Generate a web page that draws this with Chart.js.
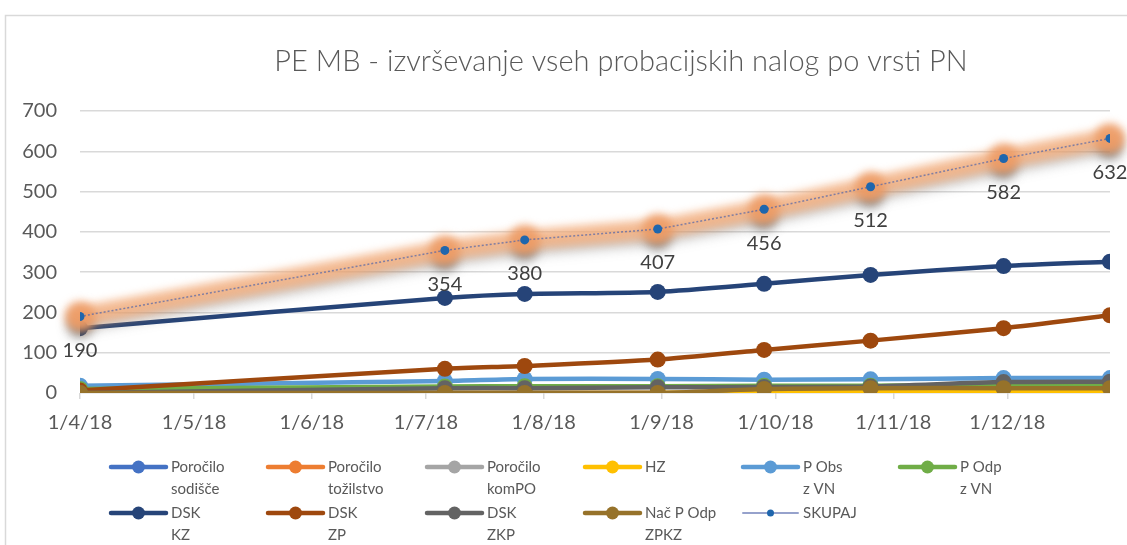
<!DOCTYPE html>
<html>
<head>
<meta charset="utf-8">
<script src="https://cdn.jsdelivr.net/npm/chart.js@4.4.1/dist/chart.umd.min.js"></script>
<style>
  html, body { margin: 0; padding: 0; background: #fff; }
</style>
</head>
<body>
<canvas id="grafico" width="1127" height="545"></canvas>
<script>
// Datos
const fechas = ['2018-04-01', '2018-07-06', '2018-07-27', '2018-08-31', '2018-09-28', '2018-10-26', '2018-11-30', '2018-12-28'];
const marcasFechas = ['2018-04-01', '2018-05-01', '2018-06-01', '2018-07-01', '2018-08-01', '2018-09-01', '2018-10-01', '2018-11-01', '2018-12-01'];
const marcasEtiquetas = ['1/4/18', '1/5/18', '1/6/18', '1/7/18', '1/8/18', '1/9/18', '1/10/18', '1/11/18', '1/12/18'];

const porociloSodisce = [0, 0, 0, 0, 0, 0, 0, 0];
const porociloTozilstvo = [0, 0, 0, 0, 0, 0, 0, 0];
const porociloKomPO = [0, 0, 0, 0, 0, 0, 0, 0];
const hz = [0, 0, 0, 0, 2, 2, 2, 2];
const pObsZVN = [18, 30, 35, 35, 33, 34, 37, 37];
const pOdpZVN = [10, 16, 17, 17, 18, 18, 20, 20];
const dskKZ = [161, 236, 246, 251, 271, 293, 315, 326];
const dskZP = [6, 60, 67, 83, 107, 130, 161, 193];
const dskZKP = [0, 12, 12, 14, 15, 16, 27, 28];
const nacPOdpZPKZ = [0, 0, 0, 0, 10, 12, 12, 12];
const skupaj = [190, 354, 380, 407, 456, 512, 582, 632];

const nombres = [
    ['Poročilo', 'sodišče'], ['Poročilo', 'tožilstvo'], ['Poročilo', 'komPO'], ['HZ'],
    ['P Obs', 'z VN'], ['P Odp', 'z VN'], ['DSK', 'KZ'], ['DSK', 'ZP'], ['DSK', 'ZKP'],
    ['Nač P Odp', 'ZPKZ'], ['SKUPAJ']
];
const series = [porociloSodisce, porociloTozilstvo, porociloKomPO, hz, pObsZVN, pOdpZVN, dskKZ, dskZP, dskZKP, nacPOdpZPKZ, skupaj];
const colores = ['#4472C4', '#ED7D31', '#A5A5A5', '#FFC000', '#5B9BD5', '#70AD47', '#264478', '#9E480E', '#636363', '#96722a', '#4472C4'];

const dia = s => Date.parse(s + 'T00:00:00Z') / 86400000;
const idxSkupaj = series.length - 1;

const datasets = series.map((valores, i) => {
    const esTotal = i === idxSkupaj;
    return {
        label: nombres[i].join(' '),
        data: valores.map((v, k) => ({ x: dia(fechas[k]), y: v })),
        borderColor: esTotal ? 'rgba(80,100,170,0.7)' : colores[i],
        backgroundColor: esTotal ? '#1f66ad' : colores[i],
        pointBackgroundColor: esTotal ? '#1f66ad' : colores[i],
        pointBorderColor: esTotal ? '#1f66ad' : colores[i],
        borderWidth: esTotal ? 1.5 : 4.5,
        borderDash: esTotal ? [2, 2] : [],
        pointRadius: esTotal ? 4.5 : 8,
        pointBorderWidth: 0,
        tension: esTotal ? 0 : 0.25,
        order: series.length - i
    };
});

// Dibujos extra: marco, título, resplandor del total, etiquetas y leyenda
const decoracion = {
    id: 'decoracion',
    beforeDraw(chart) {
        const ctx = chart.ctx;
        ctx.save();
        ctx.fillStyle = '#fff';
        ctx.fillRect(0, 0, chart.width, chart.height);
        ctx.strokeStyle = '#d9d9d9';
        ctx.lineWidth = 1.5;
        ctx.strokeRect(5.5, 15.5, 1300, 700);
        ctx.fillStyle = '#595959';
        ctx.font = '300 29px Lato';
        ctx.textAlign = 'center';
        ctx.textBaseline = 'middle';
        ctx.fillText('PE MB - izvrševanje vseh probacijskih nalog po vrsti PN', 621, 62);
        ctx.restore();
    },
    beforeDatasetDraw(chart, args) {
        if (args.index !== idxSkupaj) return;
        const ctx = chart.ctx;
        const pts = chart.getDatasetMeta(args.index).data;
        const trazo = dy => {
            ctx.beginPath();
            pts.forEach((p, k) => k ? ctx.lineTo(p.x, p.y + dy) : ctx.moveTo(p.x, p.y + dy));
        };
        ctx.save();
        ctx.lineCap = 'round';
        ctx.lineJoin = 'round';
        // sombra gris
        ctx.filter = 'blur(6px)';
        ctx.strokeStyle = 'rgba(80,80,80,0.3)';
        ctx.lineWidth = 16;
        trazo(8);
        ctx.stroke();
        ctx.fillStyle = 'rgba(60,60,60,0.55)';
        pts.forEach(p => { ctx.beginPath(); ctx.arc(p.x, p.y + 9, 12, 0, Math.PI * 2); ctx.fill(); });
        // resplandor naranja
        ctx.filter = 'blur(4px)';
        ctx.strokeStyle = 'rgba(244,168,115,0.75)';
        ctx.lineWidth = 20;
        trazo(0);
        ctx.stroke();
        ctx.fillStyle = 'rgba(238,155,100,0.85)';
        pts.forEach(p => { ctx.beginPath(); ctx.arc(p.x, p.y, 15, 0, Math.PI * 2); ctx.fill(); });
        ctx.restore();
    },
    afterDatasetsDraw(chart) {
        const ctx = chart.ctx;
        ctx.save();
        // etiquetas del total
        const pts = chart.getDatasetMeta(idxSkupaj).data;
        ctx.font = '20px Lato';
        ctx.fillStyle = '#404040';
        ctx.textAlign = 'center';
        ctx.textBaseline = 'middle';
        pts.forEach((p, k) => ctx.fillText(String(skupaj[k]), p.x, p.y + 34));

        // leyenda
        const columnas = [111, 268, 427, 585, 743, 900];
        const filas = [467, 513];
        ctx.font = '15px Lato';
        ctx.textAlign = 'left';
        nombres.forEach((lineas, i) => {
            const x = columnas[i % 6];
            const y = filas[Math.floor(i / 6)];
            const esTotal = i === idxSkupaj;
            ctx.strokeStyle = esTotal ? 'rgba(80,100,170,0.6)' : colores[i];
            ctx.lineWidth = esTotal ? 2 : 4.5;
            ctx.lineCap = 'round';
            ctx.beginPath();
            ctx.moveTo(x, y);
            ctx.lineTo(x + 55, y);
            ctx.stroke();
            ctx.fillStyle = esTotal ? '#1f66ad' : colores[i];
            ctx.beginPath();
            ctx.arc(x + 27.5, y, esTotal ? 3.5 : 6.5, 0, Math.PI * 2);
            ctx.fill();
            ctx.fillStyle = '#595959';
            lineas.forEach((t, k) => ctx.fillText(t, x + 60, y + k * 22.5));
        });
        ctx.restore();
    }
};

new Chart(document.getElementById('grafico'), {
    type: 'line',
    data: { datasets },
    options: {
        responsive: false,
        animation: false,
        layout: { padding: { top: 111, right: 17, left: 0, bottom: 0 } },
        plugins: {
            legend: { display: false },
            title: { display: false },
            tooltip: { enabled: false }
        },
        scales: {
            x: {
                type: 'linear',
                min: dia(fechas[0]),
                max: dia(fechas[fechas.length - 1]),
                afterBuildTicks: scale => {
                    scale.ticks = marcasFechas.map(f => ({ value: dia(f) }));
                },
                afterFit: scale => { scale.height = 152; },
                border: { display: false },
                grid: { drawOnChartArea: false, drawTicks: true, tickLength: 6, color: '#d9d9d9', lineWidth: 1.5 },
                ticks: {
                    autoSkip: false,
                    maxRotation: 0,
                    padding: 12,
                    color: '#595959',
                    font: { family: 'Lato', size: 20 },
                    callback: (v, i) => marcasEtiquetas[i]
                }
            },
            y: {
                min: 0,
                max: 700,
                afterFit: scale => { scale.width = 80; },
                border: { display: false },
                grid: { color: '#d9d9d9', lineWidth: 1.5, drawTicks: false },
                ticks: {
                    stepSize: 100,
                    padding: 23,
                    color: '#595959',
                    font: { family: 'Lato', size: 20 }
                }
            }
        }
    },
    plugins: [decoracion]
});
</script>
</body>
</html>
